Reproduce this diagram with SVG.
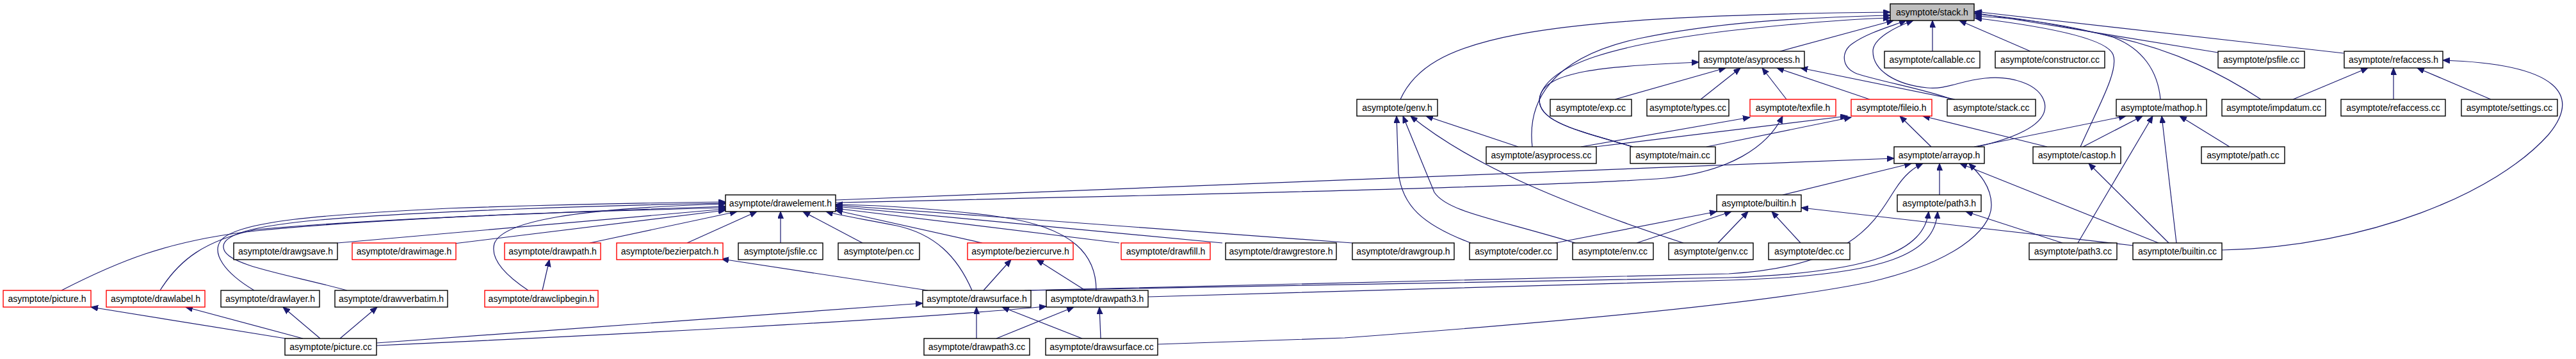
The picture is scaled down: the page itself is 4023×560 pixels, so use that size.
<svg xmlns="http://www.w3.org/2000/svg" width="4023" height="560" viewBox="0 0 4023 560">
<defs>
<style>
.n rect{fill:#fff;stroke:#000;stroke-width:1.4}
.n.r rect{stroke:#ff0000}
.n.g rect{fill:#bfbfbf}
.n text{font-family:"Liberation Sans",Arial,sans-serif;font-size:14px;text-anchor:middle;fill:#000}
#edges path{fill:none;stroke:#191970;stroke-width:1.2;marker-end:url(#a)}
</style>
<marker id="a" markerWidth="12" markerHeight="10" refX="11" refY="4.5" orient="auto" markerUnits="userSpaceOnUse"><path d="M0,0 L11,4.5 L0,9 z" fill="#191970" stroke="#191970" stroke-width="1"/></marker>
</defs>
<rect width="4023" height="560" fill="#fff"/>
<g id="edges">
<path d="M2187,155 C2230,60 2380,25 2952,19"/>
<path d="M2393,229 C2385,160 2420,90 2560,60 C2680,35 2800,28 2952,24"/>
<path d="M2550,229 C2470,205 2395,190 2405,150 C2420,100 2520,70 2700,48 C2800,37 2880,30 2952,28"/>
<path d="M2550,229 C2470,205 2395,190 2405,150 C2415,112 2500,103 2653,97"/>
<path d="M2371,229 L2227,181"/>
<path d="M2297,379 C2220,350 2190,320 2184,270 L2181,181"/>
<path d="M2460,379 C2330,340 2260,330 2240,300 L2191,181"/>
<path d="M2629,379 C2450,320 2300,260 2203,181"/>
<path d="M2780,80 L2957,32"/>
<path d="M3018,80 L3018,32"/>
<path d="M3171,80 L3060,32"/>
<path d="M2522,155 L2695,106"/>
<path d="M2656,155 L2718,106"/>
<path d="M2790,155 L2752,106"/>
<path d="M2920,155 L2775,106"/>
<path d="M3053,155 L2812,106"/>
<path d="M3048,155 C3010,140 2940,128 2900,115 C2875,105 2875,80 2893,68 C2915,52 2950,42 2977,32"/>
<path d="M3088,229 C3160,212 3200,190 3193,160 C3185,130 3140,118 3100,122 C3060,126 3040,140 3010,137 C2960,132 2925,110 2925,80 C2925,60 2960,42 2988,32"/>
<path d="M3249,229 C3275,170 3310,110 3300,85 C3290,60 3200,42 3084,28"/>
<path d="M3374,155 C3370,110 3345,75 3300,58 C3220,36 3150,28 3084,25"/>
<path d="M3531,155 C3470,115 3400,80 3300,57 C3200,36 3150,27 3084,22"/>
<path d="M3464,82 L3084,20"/>
<path d="M3660,83 L3084,18"/>
<path d="M3016,229 L2967,181"/>
<path d="M3197,229 L3003,181"/>
<path d="M3083,229 L3320,181"/>
<path d="M3253,229 L3346,181"/>
<path d="M3482,229 L3404,181"/>
<path d="M3245,379 L3362,181"/>
<path d="M3399,379 L3376,181"/>
<path d="M3387,379 L3262,255"/>
<path d="M3371,379 L3061,255"/>
<path d="M3331,383 L2813,324"/>
<path d="M3470,390 C3700,385 3900,300 3980,210 C4030,150 4000,100 3815,94"/>
<path d="M3738,155 L3738,106"/>
<path d="M3581,155 L3698,106"/>
<path d="M3890,155 L3775,106"/>
<path d="M2469,229 L2733,183"/>
<path d="M2491,229 L2885,181"/>
<path d="M2665,229 L2891,183"/>
<path d="M2429,379 L2681,330"/>
<path d="M2556,379 L2704,330"/>
<path d="M2683,379 L2730,330"/>
<path d="M2812,379 L2767,330"/>
<path d="M2784,304 L2985,255"/>
<path d="M3029,304 L3029,255"/>
<path d="M3221,379 L3070,330"/>
<path d="M1305,312 L2958,247"/>
<path d="M1305,316 C1900,303 2450,290 2600,278 C2700,268 2760,230 2784,181"/>
<path d="M1600,453 L2700,427 C2900,415 2930,340 2960,295 C2975,272 2988,262 3003,255"/>
<path d="M1605,453 L2700,433 C2930,425 3005,390 3012,330"/>
<path d="M1793,463 L2700,437 C2950,430 3022,395 3026,330"/>
<path d="M1808,537 L2100,527 C2400,505 2750,475 2920,440 C3050,410 3110,360 3110,320 C3110,290 3090,270 3075,255"/>
<path d="M588,535 L1441,473"/>
<path d="M588,539 C900,525 1400,500 1634,478"/>
<path d="M446,528 L142,479"/>
<path d="M473,528 L290,479"/>
<path d="M500,528 L442,479"/>
<path d="M531,528 L589,479"/>
<path d="M1525,528 L1525,479"/>
<path d="M1556,528 L1677,479"/>
<path d="M1690,528 L1565,479"/>
<path d="M1719,528 L1717,479"/>
<path d="M1449,453 L1127,404"/>
<path d="M1536,453 L1579,405"/>
<path d="M1695,453 L1619,405"/>
<path d="M1518,453 C1495,400 1460,365 1400,352 C1350,342 1310,336 1290,330"/>
<path d="M1712,453 C1712,400 1680,355 1560,338 C1480,327 1380,320 1305,319"/>
<path d="M1534,379 L1305,328"/>
<path d="M1748,379 L1305,325"/>
<path d="M1909,379 L1305,322"/>
<path d="M2112,379 L1305,320"/>
<path d="M1347,379 L1254,330"/>
<path d="M1219,379 L1219,330"/>
<path d="M1073,379 L1182,330"/>
<path d="M921,379 L1151,330"/>
<path d="M709,380 L1133,328"/>
<path d="M527,379 L1133,326"/>
<path d="M96,453 C180,410 260,375 400,360 C600,340 900,330 1133,322"/>
<path d="M250,453 C280,405 320,375 400,358 C600,340 900,330 1133,324"/>
<path d="M397,453 C350,425 330,395 345,375 C370,345 500,335 700,325 C900,318 1050,316 1133,315"/>
<path d="M542,453 C450,428 360,415 350,390 C340,365 400,352 500,343 C650,330 950,320 1133,317"/>
<path d="M825,453 C790,430 765,405 772,380 C785,345 900,325 1133,318"/>
<path d="M847,453 L858,405"/>
</g>
<g id="n-stack-h" class="n g"><rect x="2952" y="6" width="131" height="26"/><text x="3017.5" y="24">asymptote/stack.h</text></g>
<g id="n-asyprocess-h" class="n"><rect x="2653" y="80" width="165" height="26"/><text x="2735.5" y="98">asymptote/asyprocess.h</text></g>
<g id="n-callable-cc" class="n"><rect x="2943" y="80" width="149" height="26"/><text x="3017.5" y="98">asymptote/callable.cc</text></g>
<g id="n-constructor-cc" class="n"><rect x="3116" y="80" width="171" height="26"/><text x="3201.5" y="98">asymptote/constructor.cc</text></g>
<g id="n-psfile-cc" class="n"><rect x="3464" y="80" width="135" height="26"/><text x="3531.5" y="98">asymptote/psfile.cc</text></g>
<g id="n-refaccess-h" class="n"><rect x="3661" y="80" width="154" height="26"/><text x="3738" y="98">asymptote/refaccess.h</text></g>
<g id="n-genv-h" class="n"><rect x="2119" y="155" width="126" height="26"/><text x="2182" y="173">asymptote/genv.h</text></g>
<g id="n-exp-cc" class="n"><rect x="2421" y="155" width="127" height="26"/><text x="2484.5" y="173">asymptote/exp.cc</text></g>
<g id="n-types-cc" class="n"><rect x="2572" y="155" width="128" height="26"/><text x="2636" y="173">asymptote/types.cc</text></g>
<g id="n-texfile-h" class="n r"><rect x="2733" y="155" width="134" height="26"/><text x="2800" y="173">asymptote/texfile.h</text></g>
<g id="n-fileio-h" class="n r"><rect x="2891" y="155" width="126" height="26"/><text x="2954" y="173">asymptote/fileio.h</text></g>
<g id="n-stack-cc" class="n"><rect x="3041" y="155" width="138" height="26"/><text x="3110" y="173">asymptote/stack.cc</text></g>
<g id="n-mathop-h" class="n"><rect x="3305" y="155" width="141" height="26"/><text x="3375.5" y="173">asymptote/mathop.h</text></g>
<g id="n-impdatum-cc" class="n"><rect x="3470" y="155" width="162" height="26"/><text x="3551" y="173">asymptote/impdatum.cc</text></g>
<g id="n-refaccess-cc" class="n"><rect x="3656" y="155" width="163" height="26"/><text x="3737.5" y="173">asymptote/refaccess.cc</text></g>
<g id="n-settings-cc" class="n"><rect x="3844" y="155" width="150" height="26"/><text x="3919" y="173">asymptote/settings.cc</text></g>
<g id="n-asyprocess-cc" class="n"><rect x="2321" y="229" width="172" height="26"/><text x="2407" y="247">asymptote/asyprocess.cc</text></g>
<g id="n-main-cc" class="n"><rect x="2546" y="229" width="133" height="26"/><text x="2612.5" y="247">asymptote/main.cc</text></g>
<g id="n-arrayop-h" class="n"><rect x="2958" y="229" width="141" height="26"/><text x="3028.5" y="247">asymptote/arrayop.h</text></g>
<g id="n-castop-h" class="n"><rect x="3175" y="229" width="137" height="26"/><text x="3243.5" y="247">asymptote/castop.h</text></g>
<g id="n-path-cc" class="n"><rect x="3438" y="229" width="130" height="26"/><text x="3503" y="247">asymptote/path.cc</text></g>
<g id="n-drawelement-h" class="n"><rect x="1133" y="304" width="172" height="26"/><text x="1219" y="322">asymptote/drawelement.h</text></g>
<g id="n-builtin-h" class="n"><rect x="2681" y="304" width="132" height="26"/><text x="2747" y="322">asymptote/builtin.h</text></g>
<g id="n-path3-h" class="n"><rect x="2963" y="304" width="131" height="26"/><text x="3028.5" y="322">asymptote/path3.h</text></g>
<g id="n-drawgsave-h" class="n"><rect x="365" y="379" width="162" height="26"/><text x="446" y="397">asymptote/drawgsave.h</text></g>
<g id="n-drawimage-h" class="n r"><rect x="550" y="379" width="162" height="26"/><text x="631" y="397">asymptote/drawimage.h</text></g>
<g id="n-drawpath-h" class="n r"><rect x="788" y="379" width="150" height="26"/><text x="863" y="397">asymptote/drawpath.h</text></g>
<g id="n-bezierpatch-h" class="n r"><rect x="963" y="379" width="166" height="26"/><text x="1046" y="397">asymptote/bezierpatch.h</text></g>
<g id="n-jsfile-cc" class="n"><rect x="1153" y="379" width="132" height="26"/><text x="1219" y="397">asymptote/jsfile.cc</text></g>
<g id="n-pen-cc" class="n"><rect x="1309" y="379" width="127" height="26"/><text x="1372.5" y="397">asymptote/pen.cc</text></g>
<g id="n-beziercurve-h" class="n r"><rect x="1511" y="379" width="165" height="26"/><text x="1593.5" y="397">asymptote/beziercurve.h</text></g>
<g id="n-drawfill-h" class="n r"><rect x="1751" y="379" width="139" height="26"/><text x="1820.5" y="397">asymptote/drawfill.h</text></g>
<g id="n-drawgrestore-h" class="n"><rect x="1914" y="379" width="173" height="26"/><text x="2000.5" y="397">asymptote/drawgrestore.h</text></g>
<g id="n-drawgroup-h" class="n"><rect x="2112" y="379" width="159" height="26"/><text x="2191.5" y="397">asymptote/drawgroup.h</text></g>
<g id="n-coder-cc" class="n"><rect x="2295" y="379" width="137" height="26"/><text x="2363.5" y="397">asymptote/coder.cc</text></g>
<g id="n-env-cc" class="n"><rect x="2456" y="379" width="126" height="26"/><text x="2519" y="397">asymptote/env.cc</text></g>
<g id="n-genv-cc" class="n"><rect x="2606" y="379" width="132" height="26"/><text x="2672" y="397">asymptote/genv.cc</text></g>
<g id="n-dec-cc" class="n"><rect x="2762" y="379" width="127" height="26"/><text x="2825.5" y="397">asymptote/dec.cc</text></g>
<g id="n-path3-cc" class="n"><rect x="3169" y="379" width="137" height="26"/><text x="3237.5" y="397">asymptote/path3.cc</text></g>
<g id="n-builtin-cc" class="n"><rect x="3331" y="379" width="139" height="26"/><text x="3400.5" y="397">asymptote/builtin.cc</text></g>
<g id="n-picture-h" class="n r"><rect x="5" y="453" width="137" height="26"/><text x="73.5" y="471">asymptote/picture.h</text></g>
<g id="n-drawlabel-h" class="n r"><rect x="166" y="453" width="154" height="26"/><text x="243" y="471">asymptote/drawlabel.h</text></g>
<g id="n-drawlayer-h" class="n"><rect x="345" y="453" width="154" height="26"/><text x="422" y="471">asymptote/drawlayer.h</text></g>
<g id="n-drawverbatim-h" class="n"><rect x="523" y="453" width="176" height="26"/><text x="611" y="471">asymptote/drawverbatim.h</text></g>
<g id="n-drawclipbegin-h" class="n r"><rect x="757" y="453" width="177" height="26"/><text x="845.5" y="471">asymptote/drawclipbegin.h</text></g>
<g id="n-drawsurface-h" class="n"><rect x="1441" y="453" width="169" height="26"/><text x="1525.5" y="471">asymptote/drawsurface.h</text></g>
<g id="n-drawpath3-h" class="n"><rect x="1634" y="453" width="159" height="26"/><text x="1713.5" y="471">asymptote/drawpath3.h</text></g>
<g id="n-picture-cc" class="n"><rect x="445" y="528" width="143" height="26"/><text x="516.5" y="546">asymptote/picture.cc</text></g>
<g id="n-drawpath3-cc" class="n"><rect x="1443" y="528" width="165" height="26"/><text x="1525.5" y="546">asymptote/drawpath3.cc</text></g>
<g id="n-drawsurface-cc" class="n"><rect x="1633" y="528" width="175" height="26"/><text x="1720.5" y="546">asymptote/drawsurface.cc</text></g>
</svg>
